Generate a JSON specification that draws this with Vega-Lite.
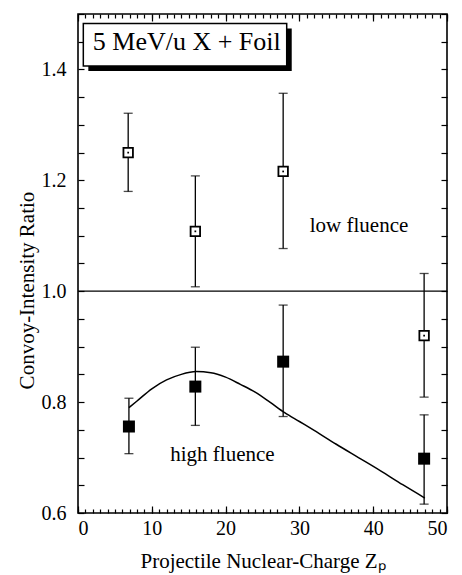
{
  "$schema": "https://vega.github.io/schema/vega-lite/v6.json",
  "width": 369,
  "height": 499,
  "autosize": "none",
  "padding": {"left": 78, "top": 14, "right": 15, "bottom": 62},
  "background": "white",
  "config": {
    "view": {"stroke": "black", "strokeWidth": 1.6},
    "font": "Liberation Serif",
    "axis": {
      "domain": false,
      "grid": false,
      "labelFont": "Liberation Serif",
      "titleFont": "Liberation Serif",
      "labelColor": "black",
      "titleColor": "black",
      "tickColor": "black",
      "labelFontSize": 20,
      "titleFontSize": 21,
      "titleFontWeight": "normal",
      "tickWidth": 1.2
    }
  },
  "datasets": {
    "points": [
      {"Z": 6.8, "ratio": 1.25, "lo": 1.18, "hi": 1.321, "fluence": "low"},
      {"Z": 15.9, "ratio": 1.108, "lo": 1.008, "hi": 1.208, "fluence": "low"},
      {"Z": 27.8, "ratio": 1.216, "lo": 1.077, "hi": 1.357, "fluence": "low"},
      {"Z": 46.9, "ratio": 0.92, "lo": 0.809, "hi": 1.032, "fluence": "low"},
      {"Z": 6.9, "ratio": 0.756, "lo": 0.707, "hi": 0.807, "fluence": "high"},
      {"Z": 15.9, "ratio": 0.828, "lo": 0.758, "hi": 0.899, "fluence": "high"},
      {"Z": 27.8, "ratio": 0.873, "lo": 0.774, "hi": 0.975, "fluence": "high"},
      {"Z": 46.9, "ratio": 0.698, "lo": 0.616, "hi": 0.777, "fluence": "high"}
    ],
    "curve": [
      {"Z": 6.9, "ratio": 0.79},
      {"Z": 8, "ratio": 0.802},
      {"Z": 10, "ratio": 0.824},
      {"Z": 12, "ratio": 0.84},
      {"Z": 14, "ratio": 0.85},
      {"Z": 16, "ratio": 0.855},
      {"Z": 18, "ratio": 0.853},
      {"Z": 20, "ratio": 0.845},
      {"Z": 22, "ratio": 0.832},
      {"Z": 24, "ratio": 0.818},
      {"Z": 26, "ratio": 0.8},
      {"Z": 28, "ratio": 0.781},
      {"Z": 30, "ratio": 0.765},
      {"Z": 32, "ratio": 0.749},
      {"Z": 35, "ratio": 0.724},
      {"Z": 38, "ratio": 0.7},
      {"Z": 41, "ratio": 0.676},
      {"Z": 44, "ratio": 0.651},
      {"Z": 47, "ratio": 0.627}
    ],
    "reference": [{"ratio": 1.0}],
    "box": [
      {"part": "shadow", "x1": 1.4, "x2": 28.96, "y1": 1.474, "y2": 1.397},
      {"part": "box", "x1": 0.72, "x2": 28.28, "y1": 1.483, "y2": 1.406}
    ],
    "labels": [
      {"Z": 2.0, "ratio": 1.435, "text": "5 MeV/u X + Foil", "size": "big"},
      {"Z": 31.4, "ratio": 1.107, "text": "low fluence", "size": "small"},
      {"Z": 12.5, "ratio": 0.694, "text": "high fluence", "size": "small"}
    ]
  },
  "resolve": {"axis": {"x": "independent", "y": "independent"}},
  "layer": [
    {
      "data": {"name": "box"},
      "transform": [{"filter": "datum.part === 'shadow'"}],
      "mark": {"type": "rect", "fill": "black"},
      "encoding": {
        "x": {"field": "x1", "type": "quantitative", "scale": {"domain": [0, 50], "nice": false, "zero": false}, "axis": null},
        "x2": {"field": "x2"},
        "y": {"field": "y1", "type": "quantitative", "scale": {"domain": [0.6, 1.5], "nice": false, "zero": false}, "axis": null},
        "y2": {"field": "y2"}
      }
    },
    {
      "data": {"name": "box"},
      "transform": [{"filter": "datum.part === 'box'"}],
      "mark": {"type": "rect", "fill": "white", "stroke": "black", "strokeWidth": 1.5},
      "encoding": {
        "x": {"field": "x1", "type": "quantitative", "axis": null},
        "x2": {"field": "x2"},
        "y": {"field": "y1", "type": "quantitative", "axis": null},
        "y2": {"field": "y2"}
      }
    },
    {
      "data": {"name": "reference"},
      "mark": {"type": "rule", "stroke": "black", "strokeWidth": 1.3},
      "encoding": {"y": {"field": "ratio", "type": "quantitative", "axis": null}}
    },
    {
      "data": {"name": "points"},
      "mark": {"type": "rule", "stroke": "black", "strokeWidth": 1.3},
      "encoding": {
        "x": {"field": "Z", "type": "quantitative", "axis": {"orient": "bottom", "labels": false, "title": null, "tickCount": 5, "tickSize": -7}},
        "y": {"field": "lo", "type": "quantitative", "axis": {"orient": "left", "labels": false, "title": null, "tickCount": 18, "tickSize": -6}},
        "y2": {"field": "hi"}
      }
    },
    {
      "data": {"name": "points"},
      "mark": {"type": "tick", "orient": "horizontal", "size": 9, "thickness": 1.3, "color": "black"},
      "encoding": {
        "x": {"field": "Z", "type": "quantitative", "axis": {"orient": "bottom", "labels": false, "title": null, "tickCount": 50, "tickSize": -4}},
        "y": {"field": "lo", "type": "quantitative", "axis": {"orient": "right", "labels": false, "title": null, "tickCount": 18, "tickSize": -6}}
      }
    },
    {
      "data": {"name": "points"},
      "mark": {"type": "tick", "orient": "horizontal", "size": 9, "thickness": 1.3, "color": "black"},
      "encoding": {
        "x": {"field": "Z", "type": "quantitative", "axis": {"orient": "top", "labels": false, "title": null, "tickCount": 5, "tickSize": -7}},
        "y": {"field": "hi", "type": "quantitative", "axis": null}
      }
    },
    {
      "data": {"name": "curve"},
      "mark": {"type": "line", "stroke": "black", "strokeWidth": 1.5, "interpolate": "monotone"},
      "encoding": {
        "x": {"field": "Z", "type": "quantitative", "axis": {"orient": "top", "labels": false, "title": null, "tickCount": 50, "tickSize": -4}},
        "y": {"field": "ratio", "type": "quantitative", "axis": null}
      }
    },
    {
      "data": {"name": "points"},
      "transform": [{"filter": "datum.fluence === 'low'"}],
      "mark": {"type": "point", "shape": "square", "filled": false, "fill": "white", "fillOpacity": 1, "stroke": "black", "strokeWidth": 1.8, "size": 90, "opacity": 1},
      "encoding": {
        "x": {"field": "Z", "type": "quantitative", "axis": null},
        "y": {"field": "ratio", "type": "quantitative", "axis": null}
      }
    },
    {
      "data": {"name": "points"},
      "transform": [{"filter": "datum.fluence === 'high'"}],
      "mark": {"type": "point", "shape": "square", "filled": true, "color": "black", "size": 144, "opacity": 1},
      "encoding": {
        "x": {"field": "Z", "type": "quantitative", "axis": {"orient": "bottom", "values": [0, 10, 20, 30, 40, 50], "ticks": false, "labelPadding": 5, "title": "Projectile Nuclear-Charge Zₚ", "titleX": 184.5, "titleY": 54, "titleBaseline": "alphabetic"}},
        "y": {"field": "ratio", "type": "quantitative", "axis": {"orient": "left", "values": [0.6, 0.8, 1.0, 1.2, 1.4], "format": ".1f", "ticks": false, "labelPadding": 12, "title": "Convoy-Intensity Ratio", "titleX": -45, "titleY": 276, "titleBaseline": "alphabetic", "titleAngle": -90}}
      }
    },
    {
      "data": {"name": "points"},
      "transform": [{"filter": "datum.fluence === 'low'"}],
      "mark": {"type": "point", "shape": "square", "filled": true, "color": "black", "size": 3, "opacity": 1},
      "encoding": {
        "x": {"field": "Z", "type": "quantitative", "axis": null},
        "y": {"field": "ratio", "type": "quantitative", "axis": null}
      }
    },
    {
      "data": {"name": "labels"},
      "transform": [{"filter": "datum.size === 'big'"}],
      "mark": {"type": "text", "align": "left", "baseline": "alphabetic", "font": "Liberation Serif", "fontSize": 26, "color": "black"},
      "encoding": {
        "x": {"field": "Z", "type": "quantitative", "axis": null},
        "y": {"field": "ratio", "type": "quantitative", "axis": null},
        "text": {"field": "text"}
      }
    },
    {
      "data": {"name": "labels"},
      "transform": [{"filter": "datum.size === 'small'"}],
      "mark": {"type": "text", "align": "left", "baseline": "alphabetic", "font": "Liberation Serif", "fontSize": 21, "color": "black"},
      "encoding": {
        "x": {"field": "Z", "type": "quantitative", "axis": null},
        "y": {"field": "ratio", "type": "quantitative", "axis": null},
        "text": {"field": "text"}
      }
    }
  ]
}
